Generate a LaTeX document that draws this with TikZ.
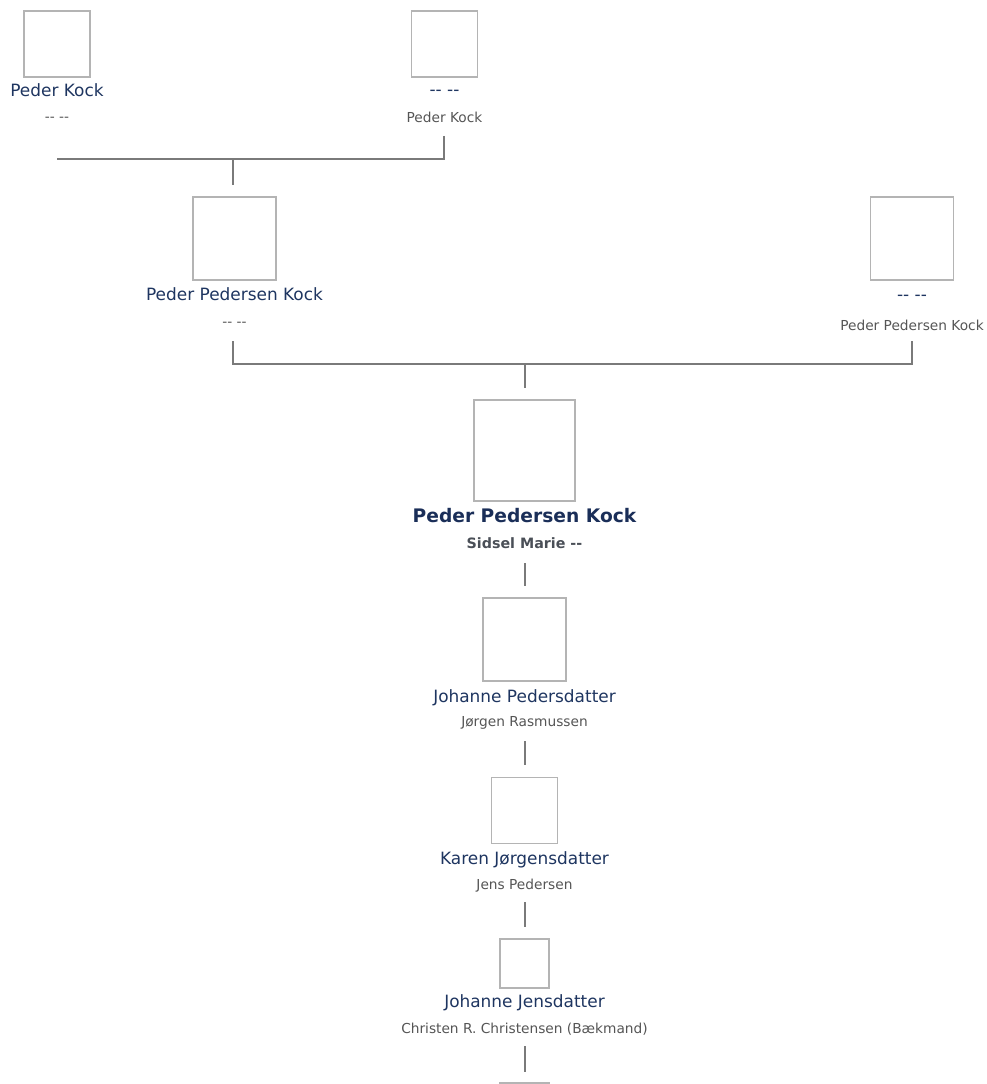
\documentclass[tikz,border=0pt]{standalone}
\usepackage{fontspec}
\newfontfamily\treefont{DejaVu Sans}
\definecolor{namecol}{HTML}{1E3560}
\definecolor{spousecol}{HTML}{555555}
\definecolor{maincol}{HTML}{1A2E58}
\definecolor{mainsp}{HTML}{4A4F57}
\definecolor{boxcol}{HTML}{B4B4B4}
\definecolor{linecol}{HTML}{7A7A7A}

\begin{document}
\begin{tikzpicture}[x=0.75pt, y=-0.75pt,
  every node/.style={inner sep=0pt, anchor=base},
  photo/.style={draw=boxcol, line width=1.1pt, fill=white, minimum size=#1, anchor=center},
  pname/.style={font={\treefont\fontsize{12.7}{15}\selectfont}, text=namecol},
  pspouse/.style={font={\treefont\fontsize{10.3}{12}\selectfont}, text=spousecol},
  mainname/.style={font={\treefont\bfseries\fontsize{14}{17}\selectfont}, text=maincol},
  mainspouse/.style={font={\treefont\bfseries\fontsize{10.7}{13}\selectfont}, text=mainsp},
  link/.style={draw=linecol, line width=2.2pt}]
\path[use as bounding box, clip] (0,0) rectangle (986,1084);
% great-grandparents
\node[photo=49.5pt] (p1) at (57,44) {};
\node[pname] (n1) at (57,97) {Peder Kock};
\node[pspouse] (s1) at (57,122) {-{}- -{}-};
\node[photo=49.5pt] (p2) at (444.5,44) {};
\node[pname] (n2) at (444.5,96) {-{}- -{}-};
\node[pspouse] (s2) at (444.5,123) {Peder Kock};
% grandparents
\node[photo=62.25pt] (p3) at (234.5,238.5) {};
\node[pname] (n3) at (234.5,300) {Peder Pedersen Kock};
\node[pspouse] (s3) at (234.5,326) {-{}- -{}-};
\node[photo=62.25pt] (p4) at (912,238.5) {};
\node[pname] (n4) at (912,300) {-{}- -{}-};
\node[pspouse] (s4) at (912,330) {Peder Pedersen Kock};
% main person
\node[photo=75.75pt] (p5) at (524.5,450.5) {};
\node[mainname] (n5) at (524.5,522) {Peder Pedersen Kock};
\node[mainspouse] (s5) at (524.5,548) {Sidsel Marie -{}-};
% descendants
\node[photo=62.25pt] (p6) at (524.5,639.5) {};
\node[pname] (n6) at (524.5,702) {Johanne Pedersdatter};
\node[pspouse] (s6) at (524.5,726) {Jørgen Rasmussen};
\node[photo=49.5pt] (p7) at (524.5,810.5) {};
\node[pname] (n7) at (524.5,864) {Karen Jørgensdatter};
\node[pspouse] (s7) at (524.5,889) {Jens Pedersen};
\node[photo=36.75pt] (p8) at (524.5,963.5) {};
\node[pname] (n8) at (524.5,1007) {Johanne Jensdatter};
\node[pspouse] (s8) at (524.5,1033) {Christen R. Christensen (Bækmand)};
\node[photo=36.75pt] (p9) at (524.5,1107.5) {};
% junction points
\coordinate (u2) at (444,136);
\coordinate (m1) at (233,159);
\coordinate (d1) at (233,185);
\coordinate (u3) at (233,341);
\coordinate (u4) at (912,341);
\coordinate (m2) at (525,364);
\coordinate (d2) at (525,388);
\coordinate (a5) at (525,563);
\coordinate (b5) at (525,586);
\coordinate (a6) at (525,741);
\coordinate (b6) at (525,765);
\coordinate (a7) at (525,902);
\coordinate (b7) at (525,927);
\coordinate (a8) at (525,1046);
\coordinate (b8) at (525,1072);
% parent links
\draw[link] (u2) |- (m1 -| p1);
\draw[link] (m1) -- (d1);
\draw[link] (u3) |- (m2) -| (u4);
\draw[link] (m2) -- (d2);
% child links
\draw[link] (a5) -- (b5);
\draw[link] (a6) -- (b6);
\draw[link] (a7) -- (b7);
\draw[link] (a8) -- (b8);
\end{tikzpicture}
\end{document}
